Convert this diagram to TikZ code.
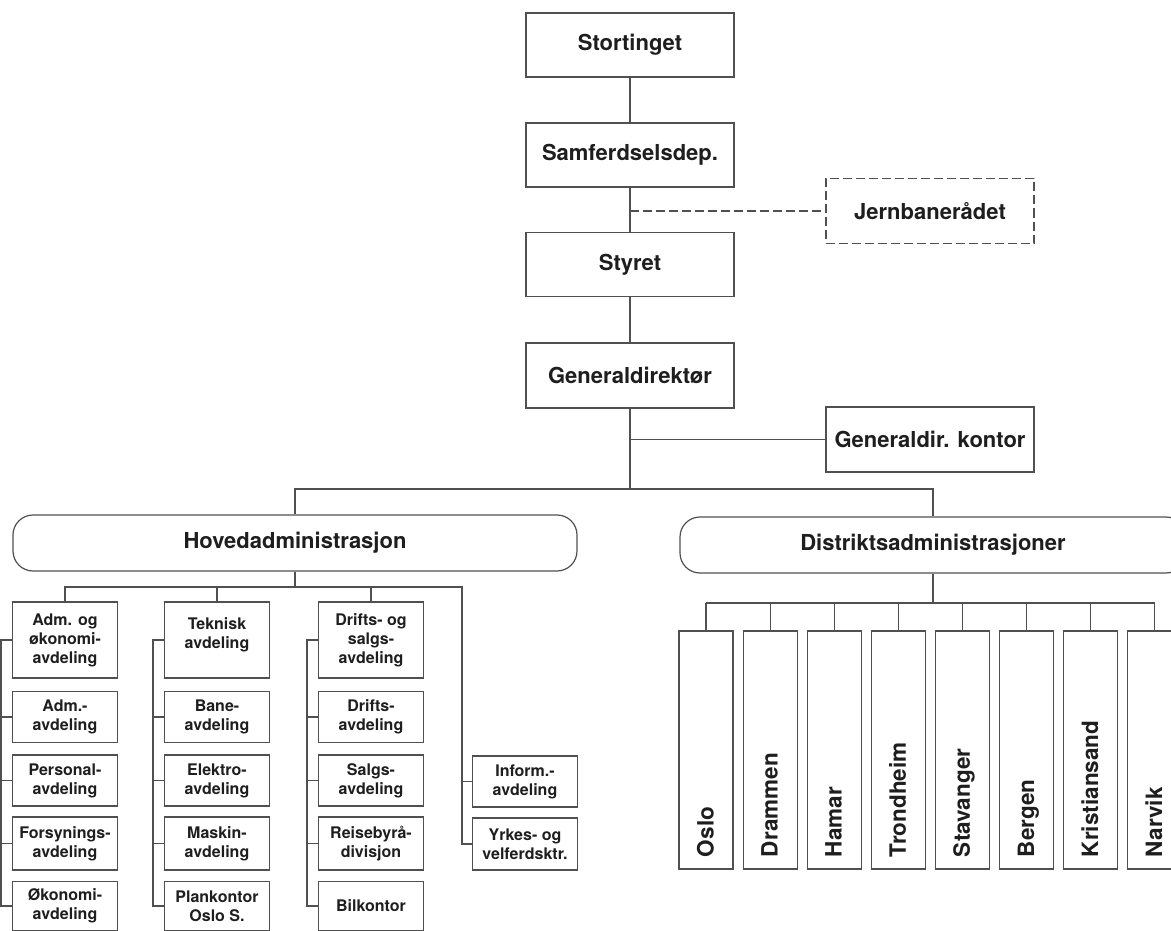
\documentclass[tikz,border=0pt]{standalone}
\usepackage{fontspec}
\setmainfont{TeX Gyre Heros}
\definecolor{lc}{HTML}{505050}
\definecolor{tc}{HTML}{1E1E1E}
\begin{document}
\begin{tikzpicture}[x=1pt,y=-1pt,
  ln/.style={draw=lc, line width=1.2pt},
  bigbox/.style={ln, rectangle, inner sep=0pt, minimum width=208pt, minimum height=64pt,
    font=\fontsize{22}{26}\selectfont\bfseries, text=tc},
  dashbox/.style={bigbox, dash pattern=on 9pt off 4pt},
  roundbox/.style={ln, rectangle, rounded corners=20pt, inner sep=0pt, minimum height=56pt,
    font=\fontsize{22}{26}\selectfont\bfseries, text=tc},
  smallbox/.style={ln, rectangle, inner sep=0pt, minimum width=105pt, minimum height=51pt,
    align=center, font=\fontsize{16}{19}\selectfont\bfseries, text=tc},
  dbox/.style={ln, rectangle, inner sep=0pt, minimum width=54pt, minimum height=238pt},
  dtext/.style={inner sep=0pt, outer sep=0pt, rotate=90, anchor=base west,
    font=\fontsize{22.5}{26}\selectfont\bfseries, text=tc},
  dashln/.style={ln, dash pattern=on 9pt off 4pt}
]
\useasboundingbox (0,0) rectangle (1171,931);
\fill[white] (0,0) rectangle (1171,931);

% top chain
\node[bigbox] (stor) at (630,45) {Stortinget};
\node[bigbox] (samf) at (630,155) {Samferdselsdep.};
\node[bigbox] (styr) at (630,264.5) {Styret};
\node[bigbox, minimum height=65pt] (gd) at (630,375.5) {Generaldirektør};
\node[dashbox, minimum height=65pt] (jern) at (930,211) {Jernbanerådet};
\node[bigbox, minimum height=65pt] (gdk) at (930,439.5) {Generaldir. kontor};

\coordinate (jt) at (630,211);
\coordinate (bus) at (630,489);
\draw[ln] (stor.south) -- (samf.north);
\draw[ln] (samf.south) -- (styr.north);
\draw[dashln] (jt) -- (jern.west);
\draw[ln] (styr.south) -- (gd.north);
\draw[ln] (gd.south) -- (bus);
\draw[ln] (gd.south |- gdk.west) -- (gdk.west);

% two administrations
\node[roundbox, minimum width=564pt] (ha) at (295,543) {Hovedadministrasjon};
\node[roundbox, minimum width=506pt] (da) at (933,545) {Distriktsadministrasjoner};
\draw[ln] (ha.north) |- (bus) -| (da.north);

% Hovedadministrasjon columns
\node[smallbox, minimum height=76pt] (a1) at (65,640) {Adm. og\\økonomi-\\avdeling};
\node[smallbox] (a2) at (65,717) {Adm.-\\avdeling};
\node[smallbox] (a3) at (65,780.5) {Personal-\\avdeling};
\node[smallbox, minimum height=53pt] (a4) at (65,843.5) {Forsynings-\\avdeling};
\node[smallbox, minimum height=49pt] (a5) at (65,906) {Økonomi-\\avdeling};

\node[smallbox, minimum height=76pt] (b1) at (217,640) {Teknisk\\avdeling\\[-5pt]\mbox{}};
\node[smallbox] (b2) at (217,717) {Bane-\\avdeling};
\node[smallbox] (b3) at (217,780.5) {Elektro-\\avdeling};
\node[smallbox, minimum height=53pt] (b4) at (217,843.5) {Maskin-\\avdeling};
\node[smallbox, minimum height=49pt] (b5) at (217,906) {Plankontor\\Oslo S.};

\node[smallbox, minimum height=76pt] (c1) at (371,640) {Drifts- og\\salgs-\\avdeling};
\node[smallbox] (c2) at (371,717) {Drifts-\\avdeling};
\node[smallbox] (c3) at (371,780.5) {Salgs-\\avdeling};
\node[smallbox, minimum height=53pt] (c4) at (371,843.5) {Reisebyrå-\\divisjon};
\node[smallbox, minimum height=49pt] (c5) at (371,906) {Bilkontor};

\node[smallbox] (i1) at (525,781.5) {Inform.-\\avdeling};
\node[smallbox, minimum height=52pt] (i2) at (525,844) {Yrkes- og\\velferdsktr.};

\coordinate (itop) at (462,587);
\draw[ln] (ha.south) -- (ha.south |- itop);
\draw[ln] (a1.north) |- (itop) -- (itop |- i2.west) -- (i2.west);
\draw[ln] (b1.north) -- (b1.north |- itop);
\draw[ln] (c1.north) -- (c1.north |- itop);
\draw[ln] (itop |- i1.west) -- (i1.west);

\draw[ln] (a1.west) -- ++(-11,0) coordinate (sa) |- (a5.west);
\draw[ln] (b1.west) -- ++(-11,0) coordinate (sb) |- (b5.west);
\draw[ln] (c1.west) -- ++(-11,0) coordinate (sc) |- (c5.west);
\foreach \k in {2,3,4}{
  \draw[ln] (sa |- a\k.west) -- (a\k.west);
  \draw[ln] (sb |- b\k.west) -- (b\k.west);
  \draw[ln] (sc |- c\k.west) -- (c\k.west);
}

% districts
\coordinate (dbus) at (933,603);
\foreach \t [count=\i from 0] in {Oslo,Drammen,Hamar,Trondheim,Stavanger,Bergen,Kristiansand,Narvik}{
  \node[dbox] (d\i) at ({706+64.1*\i},750) {};
  \node[dtext] (t\i) at ({713.5+64.1*\i},857) {\t};
  \draw[ln] (d\i.north) -- (d\i.north |- dbus);
}
\draw[ln] (da.south) -- (dbus);
\draw[ln] (d0.north |- dbus) -- (d7.north |- dbus);
\end{tikzpicture}
\end{document}
